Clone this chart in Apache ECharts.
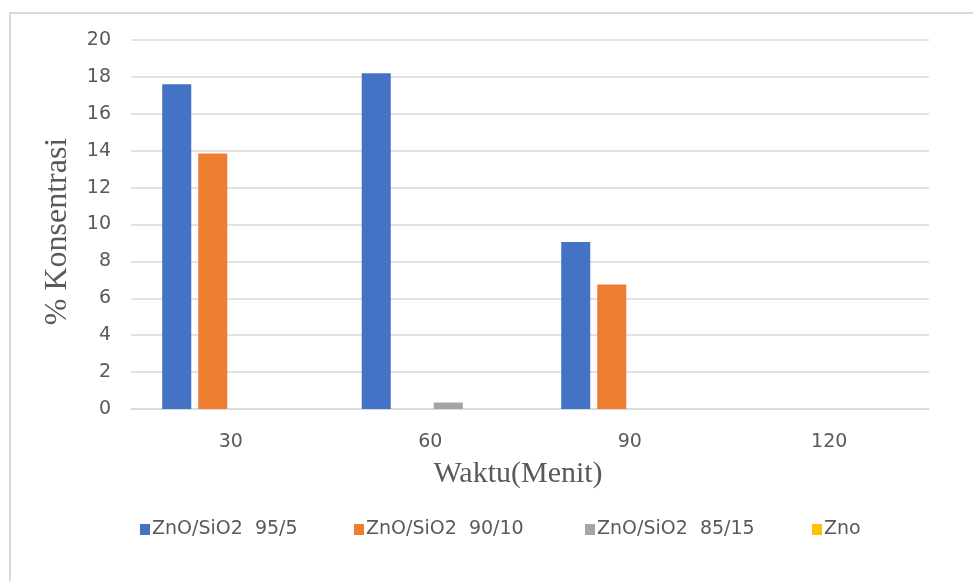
<!DOCTYPE html>
<html>
<head>
<meta charset="utf-8">
<script src="https://cdn.jsdelivr.net/npm/echarts@6/dist/echarts.min.js"></script>
<style>
  html, body { margin: 0; padding: 0; background: #fff; }
  #chart { width: 973px; height: 581px; }
</style>
</head>
<body>
<div id="chart"></div>
<script>
// Waktu (menit) on the category axis
const categories = ['30', '60', '90', '120'];

// % konsentrasi per catalyst composition
const seriesNames = ['ZnO/SiO2  95/5', 'ZnO/SiO2  90/10', 'ZnO/SiO2  85/15', 'Zno'];
const zno95 = [17.6, 18.2, 9.05, 0];
const zno90 = [13.85, 0, 6.75, 0];
const zno85 = [0, 0.35, 0, 0];
const znoPure = [0, 0, 0, 0];

const yTicks = { min: 0, max: 20, interval: 2 };

const colors = ['#4472C4', '#ED7D31', '#A5A5A5', '#FFC000'];
const values = [zno95, zno90, zno85, znoPure];

const tickFont = { fontFamily: 'DejaVu Sans', fontSize: 19, color: '#595959' };
const legendLeft = [135, 349, 580, 807];

const chart = echarts.init(document.getElementById('chart'), null, { renderer: 'canvas' });

chart.setOption({
  animation: false,
  backgroundColor: '#ffffff',
  color: colors,
  graphic: [{
    type: 'rect',
    shape: { x: 10, y: 13, width: 1200, height: 1000 },
    style: { fill: 'none', stroke: '#D9D9D9', lineWidth: 2 },
    silent: true
  }],
  legend: seriesNames.map((name, i) => ({
    data: [name],
    left: legendLeft[i],
    top: 515,
    itemWidth: 10,
    itemHeight: 11,
    itemGap: 4,
    icon: 'rect',
    textStyle: { fontFamily: 'DejaVu Sans', fontSize: 19, color: '#595959', padding: [0, 0, 0, -3] }
  })),
  grid: { left: 131, right: 44, top: 40, bottom: 172 },
  xAxis: {
    type: 'category',
    data: categories,
    axisLine: { show: true, lineStyle: { color: '#D9D9D9', width: 1.5 } },
    axisTick: { show: false },
    axisLabel: Object.assign({ margin: 24 }, tickFont),
    name: 'Waktu(Menit)',
    nameLocation: 'middle',
    nameGap: 50,
    nameTextStyle: { fontFamily: 'Liberation Serif', fontSize: 30, color: '#595959', padding: [0, 24, 0, 0] }
  },
  yAxis: {
    type: 'value',
    min: yTicks.min,
    max: yTicks.max,
    interval: yTicks.interval,
    axisLine: { show: false },
    axisTick: { show: false },
    splitLine: { lineStyle: { color: '#D9D9D9', width: 1.5 } },
    axisLabel: Object.assign({ margin: 20 }, tickFont),
    name: '% Konsentrasi',
    nameLocation: 'middle',
    nameGap: 57,
    nameRotate: 90,
    nameTextStyle: { fontFamily: 'Liberation Serif', fontSize: 32, color: '#595959', padding: [0, 14, 0, 0] }
  },
  series: seriesNames.map((name, i) => ({
    name: name,
    type: 'bar',
    data: values[i],
    barGap: '24%',
    barCategoryGap: '31.3%',
    itemStyle: { color: colors[i] }
  }))
});
</script>
</body>
</html>
